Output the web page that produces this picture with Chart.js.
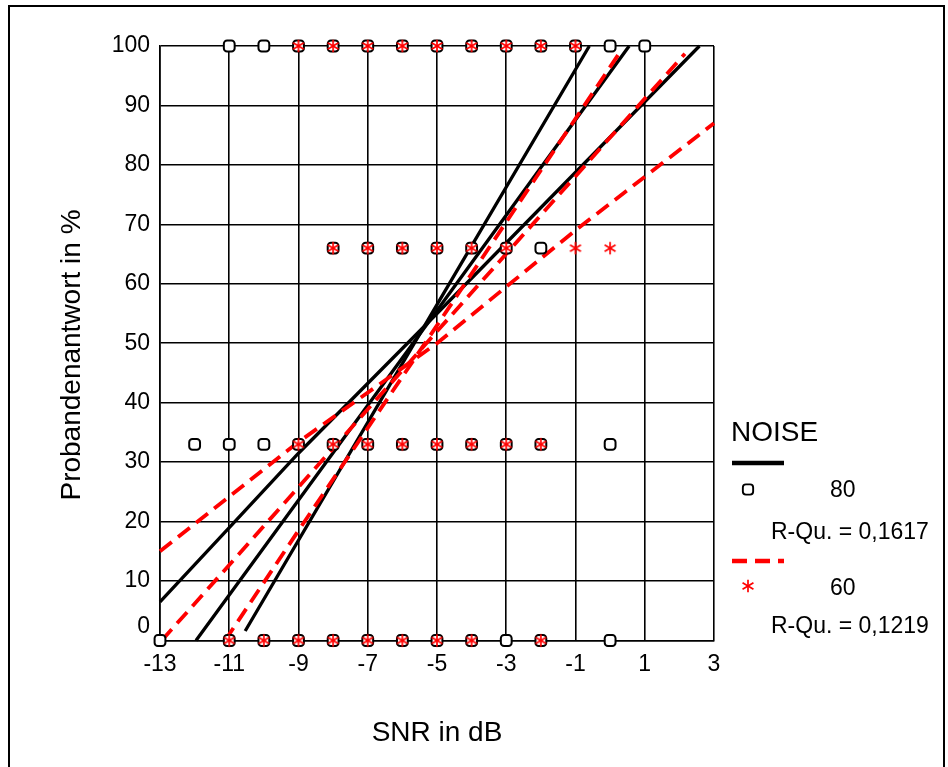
<!DOCTYPE html>
<html>
<head>
<meta charset="utf-8">
<script src="https://cdn.jsdelivr.net/npm/chart.js@4.4.1/dist/chart.umd.min.js"></script>
<style>
  body { margin: 0; background: #fff; }
  #wrap { position: relative; width: 948px; height: 767px; }
</style>
</head>
<body>
<div id="wrap"><canvas id="grafico" width="948" height="767"></canvas></div>
<script>
// Probandenantworten je SNR (NOISE 80 = Quadrate, NOISE 60 = Sterne)
let snr80 = [-11, -10, -9, -8, -7, -6, -5, -4, -3, -2, -1, 0, 1,
             -8, -7, -6, -5, -4, -3, -2,
             -12, -11, -10, -9, -8, -7, -6, -5, -4, -3, -2, 0,
             -13, -11, -10, -9, -8, -7, -6, -5, -4, -3, -2, 0]
let antwort80 = [100, 100, 100, 100, 100, 100, 100, 100, 100, 100, 100, 100, 100,
                 66, 66, 66, 66, 66, 66, 66,
                 33, 33, 33, 33, 33, 33, 33, 33, 33, 33, 33, 33,
                 0, 0, 0, 0, 0, 0, 0, 0, 0, 0, 0, 0]

let snr60 = [-9, -8, -7, -6, -5, -4, -3, -2, -1,
             -8, -7, -6, -5, -4, -3, -1, 0,
             -9, -8, -7, -6, -5, -4, -3, -2,
             -11, -10, -9, -8, -7, -6, -5, -4, -2]
let antwort60 = [100, 100, 100, 100, 100, 100, 100, 100, 100,
                 66, 66, 66, 66, 66, 66, 66, 66,
                 33, 33, 33, 33, 33, 33, 33, 33,
                 0, 0, 0, 0, 0, 0, 0, 0, 0]

// Anpassungslinien (x = SNR, y = Antwort)
let linie80Mitte = [[-11.96, 0], [-5, 55.5], [0.55, 100]]
let linie80Steil = [[-10.54, 1.6], [-5, 56.5], [-0.6, 100]]
let linie80Flach = [[-13, 6.5], [-11, 19], [-9, 31.5], [-5, 55], [2.58, 100]]
let linie60Mitte = [[-12.95, 0], [-11, 12.7], [-5, 52], [2.16, 98.7]]
let linie60Steil = [[-11.12, 0], [-9, 18.5], [-5, 53], [0.29, 99]]
let linie60Flach = [[-13, 15], [-9, 33.4], [-5, 50], [-3, 59.5], [-1, 69], [3, 87]]

let xTicks = { min: -13, max: 3, step: 2 }
let yTicks = { min: 0, max: 100, step: 10 }

let tituloX = 'SNR in dB'
let tituloY = 'Probandenantwort in %'
let rQu80 = 'R-Qu. = 0,1617'
let rQu60 = 'R-Qu. = 0,1219'

const fonte = 'Liberation Sans, Arial, sans-serif'

function pontos(xs, ys) {
    let lista = []
    for (var i = 0; i < xs.length; i++) {
        lista.push({ x: xs[i], y: ys[i] })
    }
    return lista
}

function linha(pares) {
    return pares.map(p => ({ x: p[0], y: p[1] }))
}

// Sternchen mit 6 Armen als eigenes Punktsymbol
function criarAsterisco() {
    let c = document.createElement('canvas')
    c.width = 16
    c.height = 16
    let g = c.getContext('2d')
    g.strokeStyle = '#ff0000'
    g.lineWidth = 1.7
    let r = 6.3
    let angulos = [90, 30, 150]
    angulos.forEach(a => {
        let rad = a * Math.PI / 180
        g.beginPath()
        g.moveTo(8 - Math.cos(rad) * r, 8 - Math.sin(rad) * r)
        g.lineTo(8 + Math.cos(rad) * r, 8 + Math.sin(rad) * r)
        g.stroke()
    })
    return c
}
const asterisco = criarAsterisco()

function serieLinha(pares, cor, tracejado, ordem) {
    return {
        data: linha(pares),
        showLine: true,
        borderColor: cor,
        borderWidth: tracejado ? 3.8 : 3.3,
        borderDash: tracejado ? [15, 8] : [],
        pointRadius: 0,
        pointHoverRadius: 0,
        fill: false,
        clip: false,
        order: ordem,
    }
}

// Rahmen, y-Titel und Legende rechts
const rahmenLegende = {
    id: 'rahmenLegende',
    beforeDraw(chart) {
        const ctx = chart.ctx
        ctx.save()
        ctx.fillStyle = '#fff'
        ctx.fillRect(0, 0, chart.width, chart.height)
        ctx.strokeStyle = '#000'
        ctx.lineWidth = 2
        ctx.strokeRect(9, 6, 935, 820)
        ctx.restore()
    },
    afterDraw(chart) {
        const ctx = chart.ctx
        ctx.save()

        // y-Titel, leicht unter der Mitte der Achse
        ctx.fillStyle = '#000'
        ctx.font = '28px ' + fonte
        ctx.textAlign = 'center'
        ctx.textBaseline = 'middle'
        ctx.translate(72, 355)
        ctx.rotate(-Math.PI / 2)
        ctx.fillText(tituloY, 0, 0)
        ctx.setTransform(1, 0, 0, 1, 0, 0)

        ctx.textAlign = 'left'
        ctx.fillText('NOISE', 731, 433)

        // schwarze Linie
        ctx.strokeStyle = '#000'
        ctx.lineWidth = 4.5
        ctx.beginPath()
        ctx.moveTo(732, 463)
        ctx.lineTo(784, 463)
        ctx.stroke()

        ctx.fillStyle = '#fff'
        ctx.strokeStyle = '#000'
        ctx.lineWidth = 1.9
        Chart.helpers.drawPoint(ctx, { pointStyle: 'rectRounded', radius: 6, rotation: 0, borderWidth: 1.9 }, 748, 489.5)

        ctx.fillStyle = '#000'
        ctx.font = '23px ' + fonte
        ctx.fillText('80', 830, 491)
        ctx.fillText(rQu80, 771, 533)

        // rote gestrichelte Linie
        ctx.strokeStyle = '#ff0000'
        ctx.lineWidth = 4.5
        ctx.setLineDash([15, 8])
        ctx.beginPath()
        ctx.moveTo(732, 561)
        ctx.lineTo(784, 561)
        ctx.stroke()
        ctx.setLineDash([])

        ctx.drawImage(asterisco, 748 - 8, 586 - 8)
        ctx.fillText('60', 830, 589)
        ctx.fillText(rQu60, 771, 627)
        ctx.restore()
    }
}

let grafico = document.getElementById('grafico')

new Chart(grafico, {
    type: 'scatter',
    data: {
        datasets: [
            {
                data: pontos(snr60, antwort60),
                pointStyle: asterisco,
                pointRadius: 8,
                pointHoverRadius: 8,
                clip: false,
                order: 0,
            },
            {
                data: pontos(snr80, antwort80),
                pointStyle: 'rectRounded',
                pointRadius: 6.3,
                pointHoverRadius: 6.3,
                pointBackgroundColor: '#fff',
                pointBorderColor: '#000',
                pointBorderWidth: 2,
                clip: false,
                order: 1,
            },
            serieLinha(linie60Mitte, '#ff0000', true, 2),
            serieLinha(linie60Steil, '#ff0000', true, 2),
            serieLinha(linie60Flach, '#ff0000', true, 2),
            serieLinha(linie80Mitte, '#000', false, 3),
            serieLinha(linie80Steil, '#000', false, 3),
            serieLinha(linie80Flach, '#000', false, 3),
        ],
    },
    options: {
        responsive: false,
        animation: false,
        events: [],
        layout: {
            padding: { left: 0, top: 46, right: 234, bottom: 0 },
        },
        scales: {
            x: {
                type: 'linear',
                min: xTicks.min,
                max: xTicks.max,
                afterFit(scale) { scale.height = 126.5 },
                ticks: {
                    stepSize: xTicks.step,
                    padding: 10,
                    color: '#000',
                    font: { family: fonte, size: 23 },
                    callback: v => String(v),
                },
                grid: { color: '#000', lineWidth: 1.6, drawTicks: false },
                border: { color: '#000', width: 1.6 },
                title: {
                    display: true,
                    text: tituloX,
                    color: '#000',
                    font: { family: fonte, size: 28 },
                    padding: { top: 0, bottom: 17 },
                },
            },
            y: {
                min: yTicks.min,
                max: yTicks.max,
                afterFit(scale) { scale.width = 160 },
                ticks: {
                    stepSize: yTicks.step,
                    padding: 10,
                    color: '#000',
                    font: { family: fonte, size: 23 },
                    // die 0 sitzt etwas über der x-Achse
                    callback: v => v === 0 ? ['0', ''] : String(v),
                },
                grid: { color: '#000', lineWidth: 1.6, drawTicks: false },
                border: { color: '#000', width: 1.6 },
            },
        },
        plugins: {
            legend: { display: false },
            tooltip: { enabled: false },
        },
    },
    plugins: [rahmenLegende],
})
</script>
</body>
</html>
